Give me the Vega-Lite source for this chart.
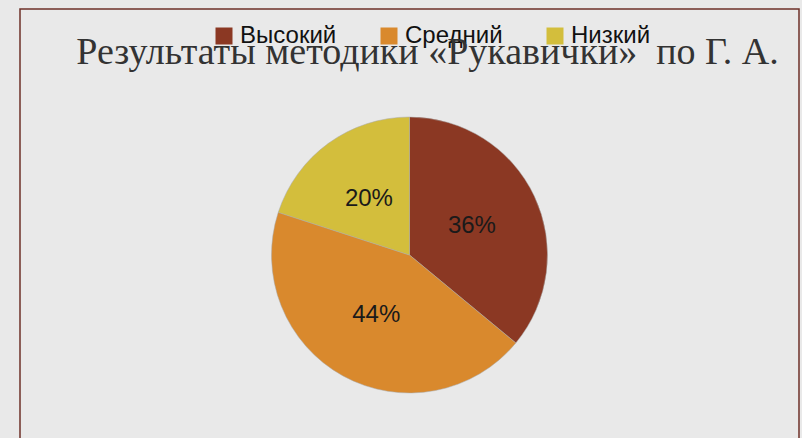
{
  "$schema": "https://vega.github.io/schema/vega-lite/v6.json",
  "width": 802,
  "height": 438,
  "autosize": {"type": "fit", "contains": "padding"},
  "padding": {"left": 20, "top": 9, "right": 3, "bottom": -3},
  "background": "#e9e9e9",
  "view": {"stroke": "#6e3028", "strokeWidth": 1.5},
  "title": {
    "text": "Результаты методики «Рукавички» \u00a0по Г. А.",
    "font": "Liberation Serif",
    "fontSize": 38,
    "fontWeight": "normal",
    "color": "#333333",
    "anchor": "middle",
    "frame": "group",
    "offset": -63,
    "dx": 18
  },
  "data": {
    "values": [
      {"level": "Высокий", "pct": 36, "ord": 1, "label": "36%"},
      {"level": "Средний", "pct": 44, "ord": 2, "label": "44%"},
      {"level": "Низкий", "pct": 20, "ord": 3, "label": "20%"}
    ]
  },
  "encoding": {
    "theta": {"field": "pct", "type": "quantitative", "stack": true},
    "order": {"field": "ord", "type": "quantitative"}
  },
  "layer": [
    {
      "mark": {"type": "arc", "outerRadius": 138, "yOffset": 30, "stroke": "#a8a8a8", "strokeWidth": 0.5},
      "encoding": {
        "color": {
          "field": "level",
          "type": "nominal",
          "scale": {"domain": ["Высокий", "Средний", "Низкий"], "range": ["#8b3823", "#d9892d", "#d3be3c"]},
          "legend": {
            "orient": "none",
            "legendX": 192,
            "legendY": 15,
            "direction": "horizontal",
            "title": null,
            "symbolType": "square",
            "symbolSize": 289,
            "symbolStrokeWidth": 0,
            "labelFontSize": 24,
            "labelFont": "Liberation Sans",
            "labelColor": "#111111",
            "labelOffset": 4,
            "columnPadding": 40
          }
        }
      }
    },
    {
      "mark": {"type": "text", "radius": 69, "yOffset": 30, "fontSize": 24, "font": "Liberation Sans", "color": "#1a1a1a"},
      "encoding": {"text": {"field": "label", "type": "nominal"}}
    }
  ]
}
